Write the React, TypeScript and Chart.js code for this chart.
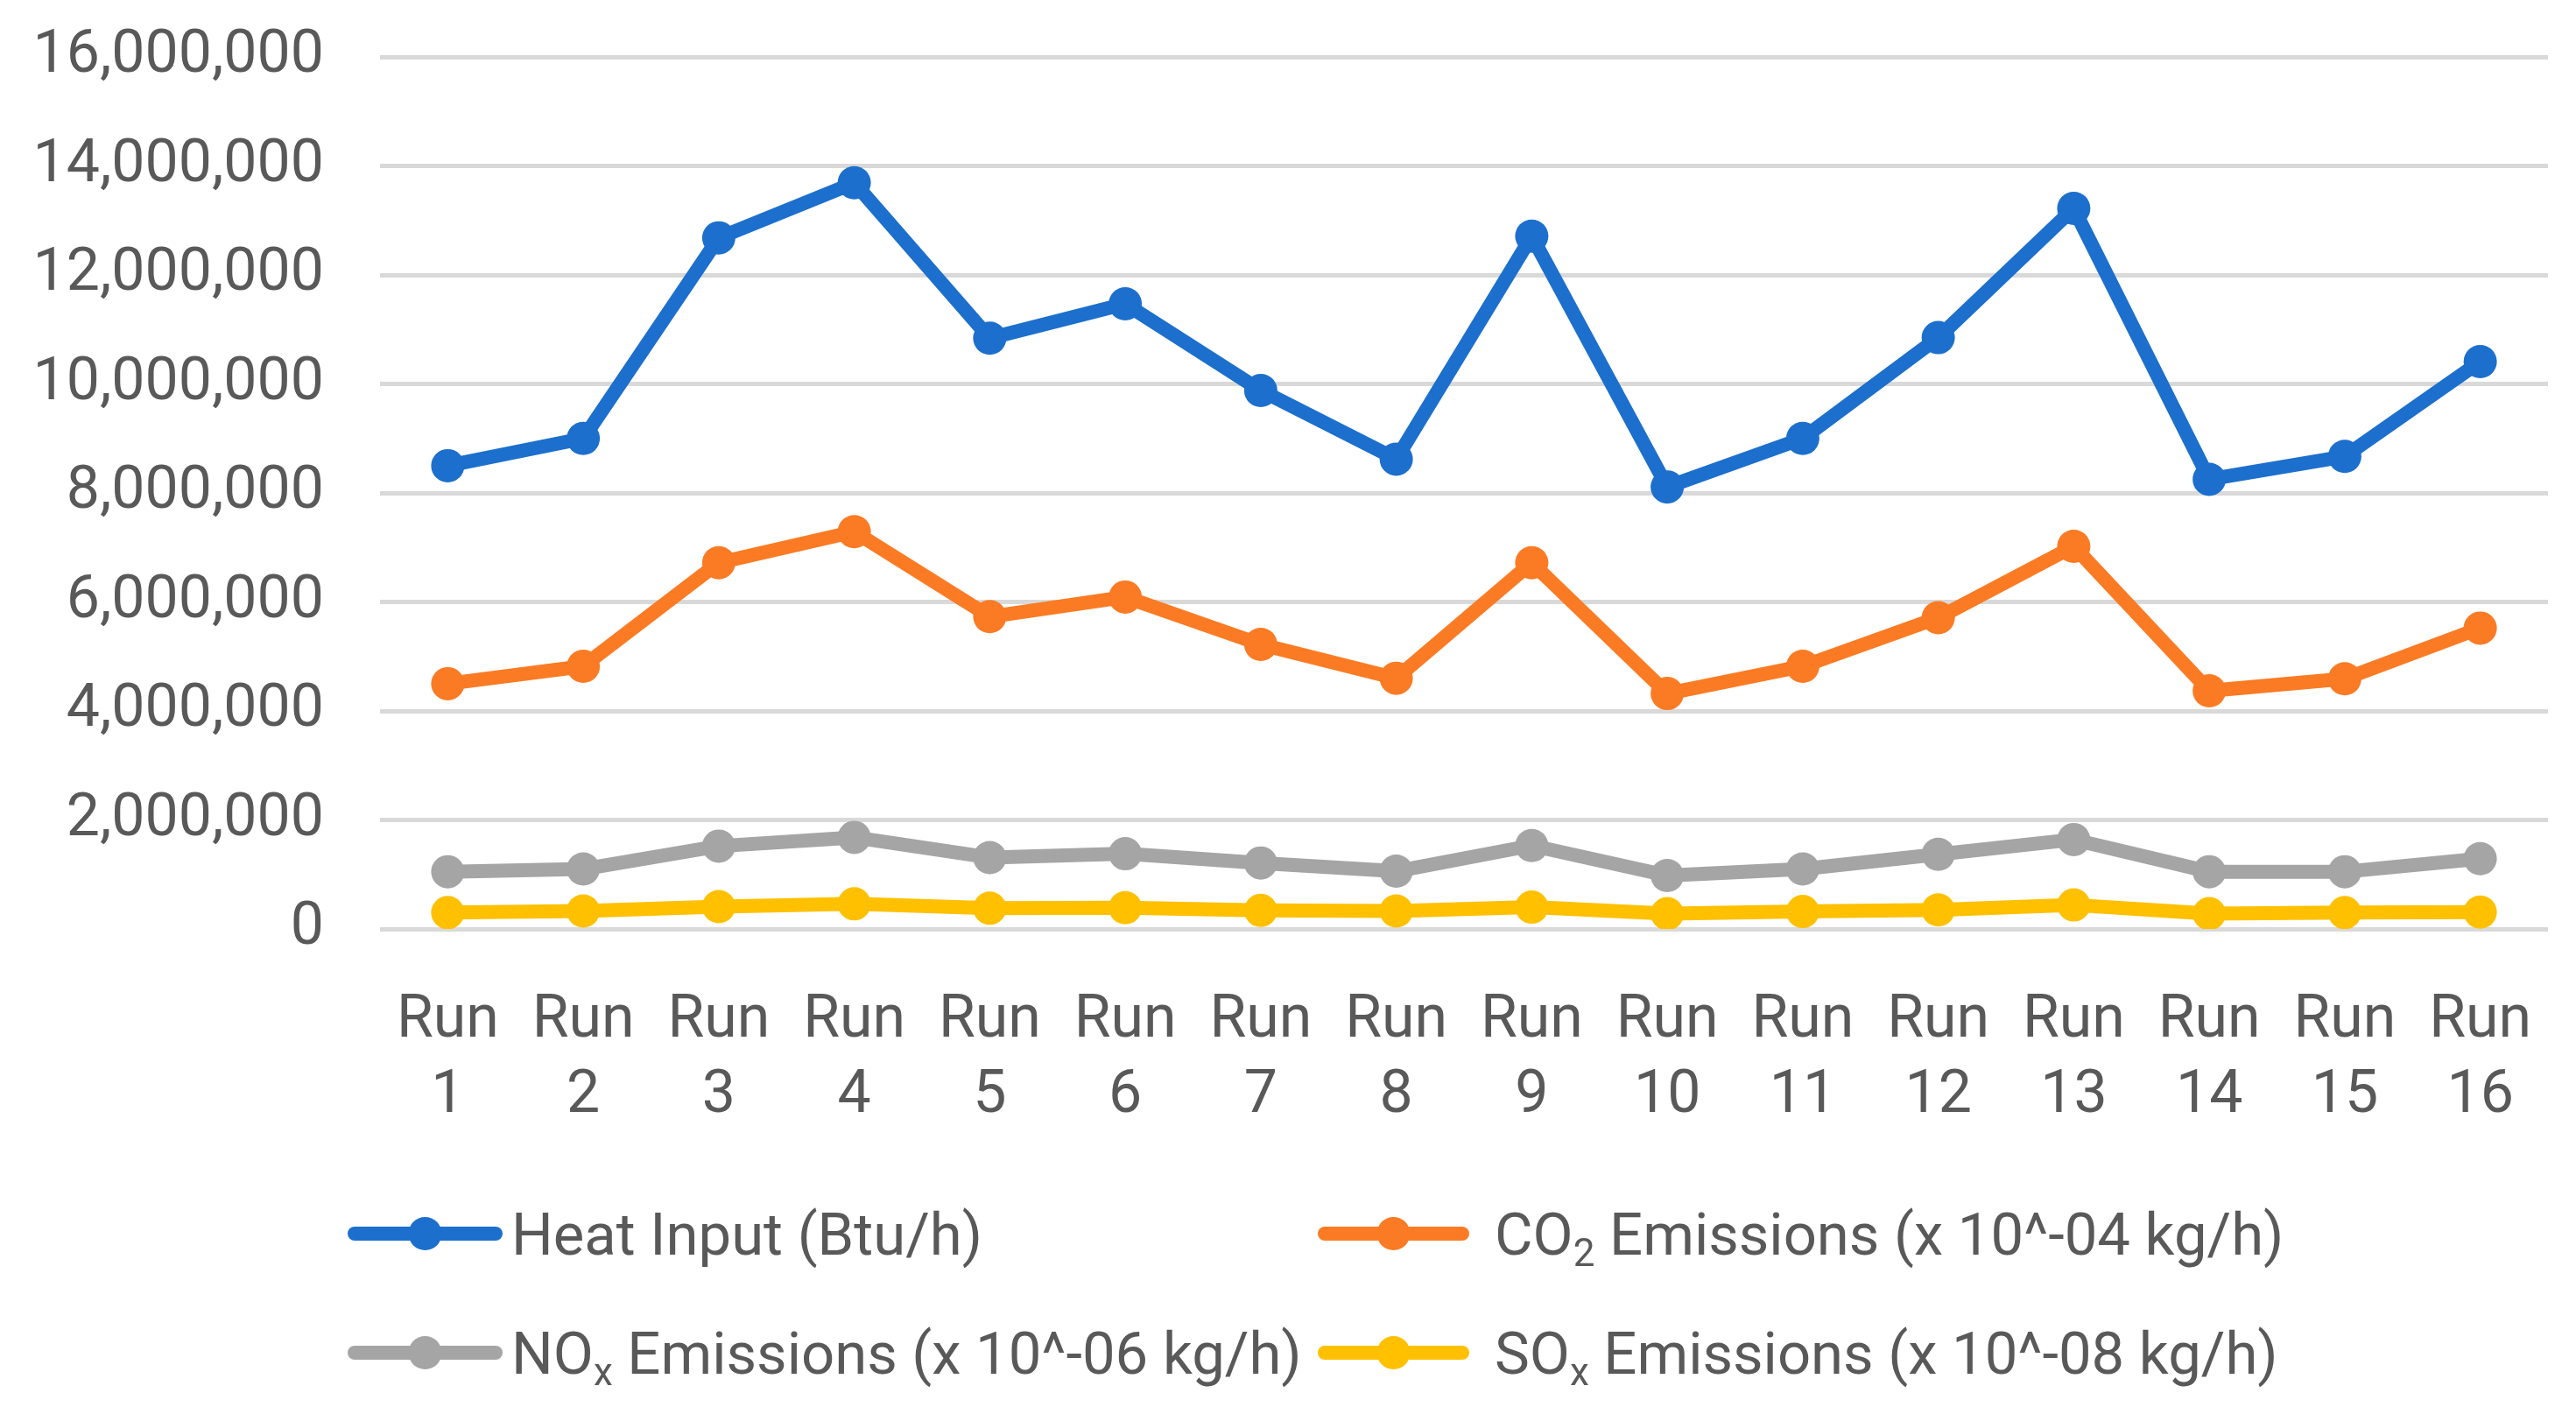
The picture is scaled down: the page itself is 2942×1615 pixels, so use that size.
import React, { useEffect, useRef } from "react";
import { Chart, registerables } from "chart.js";

Chart.register(...registerables);

const categories = [
  "Run 1", "Run 2", "Run 3", "Run 4", "Run 5", "Run 6", "Run 7", "Run 8",
  "Run 9", "Run 10", "Run 11", "Run 12", "Run 13", "Run 14", "Run 15", "Run 16",
];

const heatInput = [
  8500000, 9000000, 12680000, 13690000, 10840000, 11470000, 9880000, 8620000,
  12710000, 8110000, 9000000, 10850000, 13220000, 8250000, 8670000, 10410000,
];
const co2Emissions = [
  4500000, 4820000, 6720000, 7290000, 5730000, 6090000, 5220000, 4600000,
  6720000, 4320000, 4820000, 5710000, 7020000, 4370000, 4590000, 5520000,
];
const noxEmissions = [
  1050000, 1100000, 1520000, 1680000, 1310000, 1380000, 1210000, 1060000,
  1530000, 980000, 1100000, 1370000, 1640000, 1050000, 1050000, 1290000,
];
const soxEmissions = [
  300000, 330000, 410000, 460000, 380000, 390000, 340000, 330000,
  400000, 280000, 320000, 350000, 440000, 280000, 300000, 310000,
];

const seriesLabels = [
  "Heat Input (Btu/h)",
  "CO₂ Emissions (x 10^-04 kg/h)",
  "NOₓ Emissions (x 10^-06 kg/h)",
  "SOₓ Emissions (x 10^-08 kg/h)",
];
const seriesColors = ["#1C6FCC", "#FB7B24", "#A5A5A5", "#FFC000"];

const yTicks = [0, 2000000, 4000000, 6000000, 8000000, 10000000, 12000000, 14000000, 16000000];

const FONT = "Roboto, 'Open Sans', sans-serif";
const TEXT = "#595959";

const legendPlugin = {
  id: "gridLegend",
  afterDraw(chart: any) {
    const ctx = chart.ctx as CanvasRenderingContext2D;
    const cols = [
      { l0: 397, l1: 574, tx: 584 },
      { l0: 1505, l1: 1678, tx: 1707 },
    ];
    const rows = [1409, 1545];
    const subMap: Record<string, string> = { "₂": "2", "ₓ": "x" };
    chart.data.datasets.forEach((ds: any, i: number) => {
      const c = cols[i % 2];
      const y = rows[Math.floor(i / 2)];
      ctx.save();
      ctx.strokeStyle = ds.borderColor;
      ctx.lineWidth = 16;
      ctx.lineCap = "round";
      ctx.beginPath();
      ctx.moveTo(c.l0 + 8, y);
      ctx.lineTo(c.l1 - 8, y);
      ctx.stroke();
      ctx.fillStyle = ds.borderColor;
      ctx.beginPath();
      ctx.arc((c.l0 + c.l1) / 2, y, 19, 0, Math.PI * 2);
      ctx.fill();
      ctx.fillStyle = TEXT;
      ctx.textBaseline = "alphabetic";
      ctx.textAlign = "left";
      let x = c.tx;
      const base = y + 24;
      let buf = "";
      const flush = () => {
        if (!buf) return;
        ctx.font = `67px ${FONT}`;
        ctx.fillText(buf, x, base);
        x += ctx.measureText(buf).width;
        buf = "";
      };
      for (const ch of Array.from(ds.label as string)) {
        if (subMap[ch]) {
          flush();
          ctx.font = `44px ${FONT}`;
          ctx.fillText(subMap[ch], x, base + 13);
          x += ctx.measureText(subMap[ch]).width;
        } else {
          buf += ch;
        }
      }
      flush();
      ctx.restore();
    });
  },
};

export default function App() {
  const ref = useRef<HTMLCanvasElement>(null);
  useEffect(() => {
    document.body.style.margin = "0";
    const seriesData = [heatInput, co2Emissions, noxEmissions, soxEmissions];
    const chart = new Chart(ref.current!, {
      type: "line",
      data: {
        labels: categories.map((c) => c.split(" ")),
        datasets: seriesData.map((d, i) => ({
          label: seriesLabels[i],
          data: d,
          borderColor: seriesColors[i],
          backgroundColor: seriesColors[i],
          pointBackgroundColor: seriesColors[i],
          pointBorderWidth: 0,
          pointRadius: 19,
          pointHoverRadius: 19,
          borderWidth: 16,
          borderJoinStyle: "round" as const,
          borderCapStyle: "round" as const,
          tension: 0,
        })),
      },
      options: {
        responsive: false,
        animation: false,
        devicePixelRatio: 1,
        layout: { padding: { left: 0, right: 32, top: 65, bottom: 314 } },
        plugins: {
          legend: { display: false },
          tooltip: { enabled: false },
        },
        scales: {
          x: {
            offset: true,
            grid: { display: false, drawTicks: false },
            border: { display: false },
            ticks: {
              color: TEXT,
              font: { family: FONT, size: 68, lineHeight: 1.265 },
              padding: 63,
              maxRotation: 0,
              autoSkip: false,
            },
            afterFit: (s: any) => {
              s.height = 240;
              s.paddingLeft = 0;
              s.paddingRight = 0;
            },
          },
          y: {
            min: 0,
            max: 16000000,
            afterBuildTicks: (s: any) => {
              s.ticks = yTicks.map((v) => ({ value: v }));
            },
            grid: { color: "#D9D9D9", lineWidth: 5, drawTicks: false },
            border: { display: false },
            ticks: {
              color: TEXT,
              font: { family: FONT, size: 68 },
              padding: 64,
              callback: (v: any) => Number(v).toLocaleString("en-US"),
            },
            afterFit: (s: any) => {
              s.width = 434;
              s.paddingTop = 0;
              s.paddingBottom = 0;
            },
          },
        },
      },
      plugins: [legendPlugin],
    });
    return () => chart.destroy();
  }, []);
  return (
    <div style={{ width: 2942, height: 1615, background: "#fff" }}>
      <canvas ref={ref} width={2942} height={1615} style={{ width: 2942, height: 1615, display: "block" }} />
    </div>
  );
}
